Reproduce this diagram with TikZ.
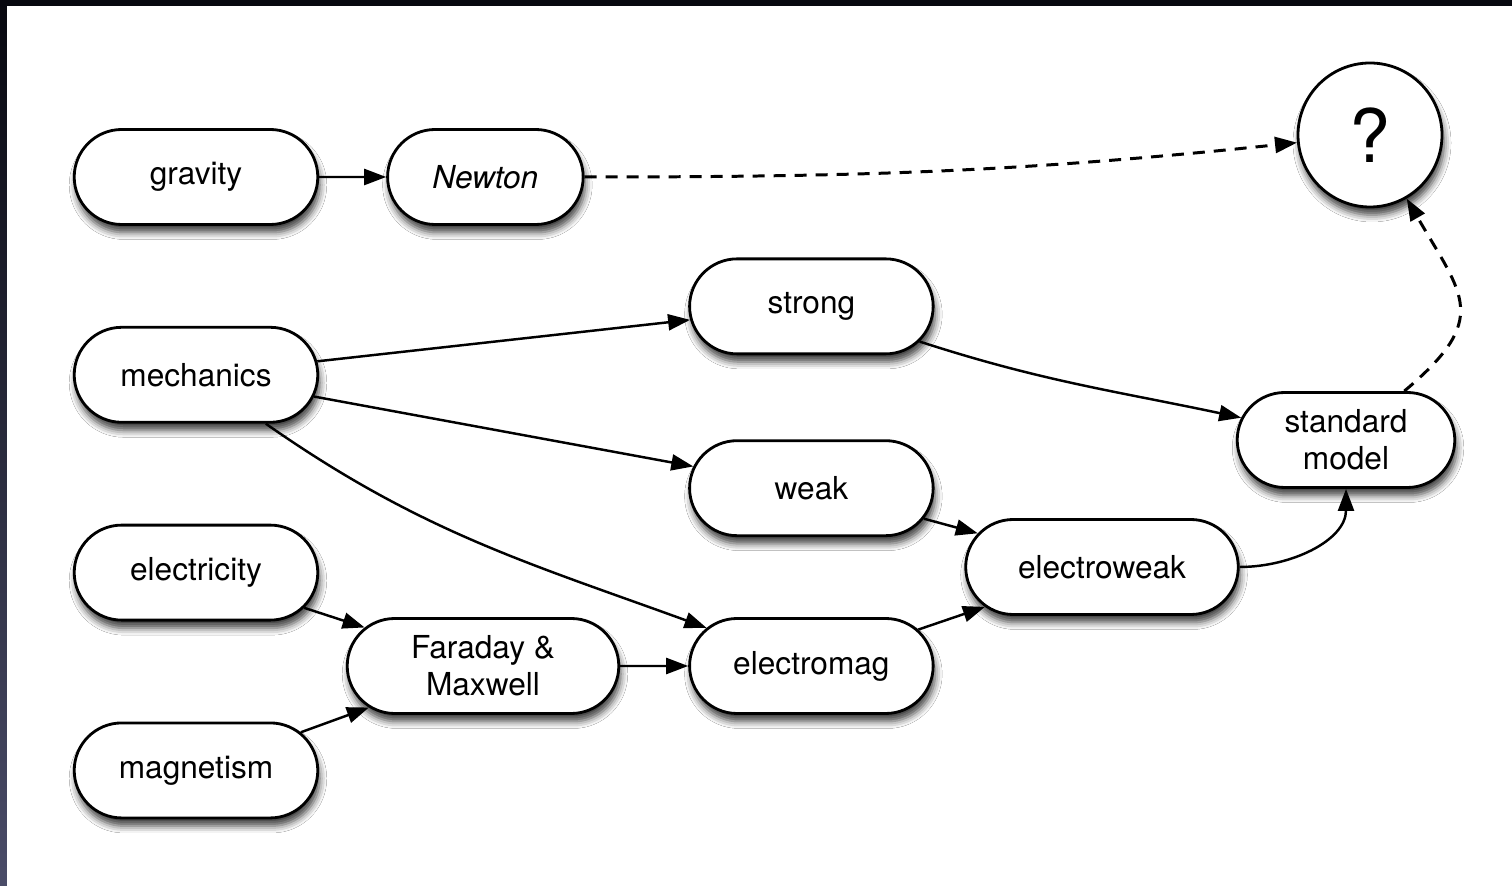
\documentclass[tikz,border=0pt]{standalone}
\usepackage{fontspec}
\setmainfont{TeX Gyre Heros}
\usepackage{tikz}
\usetikzlibrary{shapes.misc, arrows.meta, positioning, shadows.blur}
\usepackage{xcolor}
\definecolor{frameDark}{HTML}{07080F}
\definecolor{frameGrey}{HTML}{4A4C68}

\begin{document}
\begin{tikzpicture}[
    node distance=1cm,
    concept/.style={rounded rectangle, draw, line width=0.8pt, fill=white, minimum width=2.67cm, minimum height=0.95cm, align=center, font=\fontsize{9}{10.5}\selectfont, blur shadow={shadow xshift=0.02cm, shadow yshift=-0.08cm, shadow blur radius=0.07cm, shadow opacity=75}},
    unknown/.style={circle, draw, line width=0.8pt, fill=white, minimum size=1.44cm, font=\fontsize{21}{25}\selectfont, blur shadow={shadow xshift=0.02cm, shadow yshift=-0.08cm, shadow blur radius=0.07cm, shadow opacity=75}},
    arrow/.style={-{Triangle[length=2.2mm, width=1.6mm]}, line width=0.7pt},
    guess/.style={arrow, line width=0.85pt, dash pattern=on 1.2mm off 0.9mm},
]
    % dark frame round the slide
    \useasboundingbox (0,0) rectangle (15.12,8.86);
    \shade[top color=frameDark, bottom color=frameGrey] (0,0) rectangle (0.07,8.86);
    \fill[frameDark] (0,8.80) rectangle (15.12,8.86);
    \fill[white] (0.07,0) rectangle (15.12,8.80);

    \node[concept] (gravity) at (1.96,7.09) {gravity};
    \node[concept, minimum width=2.19cm, right=0.67cm of gravity] (newton) {\itshape Newton};
    \node[concept, below=1cm of gravity] (mechanics) {mechanics};
    \node[concept, below=1cm of mechanics] (electricity) {electricity};
    \node[concept, below=1cm of electricity] (magnetism) {magnetism};
    \node[concept, minimum width=2.95cm] (faraday) at (4.83,2.20) {Faraday \&\\Maxwell};
    \node[concept, right=0.68cm of faraday] (electromag) {electromag};
    \node[concept, above=0.80cm of electromag] (weak) {weak};
    \node[concept, above=0.84cm of weak] (strong) {strong};
    \node[concept, minimum width=2.96cm] (electroweak) at (11.02,3.19) {electroweak};
    \node[concept, minimum width=2.41cm] (standard) at (13.46,4.46) {standard\\model};
    \node[unknown] (unknown) at (13.70,7.51) {?};

    \draw[arrow] (gravity) -- (newton);
    \draw[guess] (newton) to[out=0, in=186] (unknown);
    \draw[arrow] (mechanics) -- (strong);
    \draw[arrow] (mechanics) -- (weak);
    \draw[arrow] (mechanics) to[out=-35, in=160] (electromag);
    \draw[arrow] (electricity) -- (faraday);
    \draw[arrow] (magnetism) -- (faraday);
    \draw[arrow] (faraday) -- (electromag);
    \draw[arrow] (strong) to[out=-18, in=168] (standard);
    \draw[arrow] (weak) -- (electroweak);
    \draw[arrow] (electromag) -- (electroweak);
    \draw[arrow] (electroweak) to[out=0, in=-90] (standard);
    \draw[guess] (standard) to[out=40, in=-60, looseness=1.5] (unknown);
\end{tikzpicture}
\end{document}
